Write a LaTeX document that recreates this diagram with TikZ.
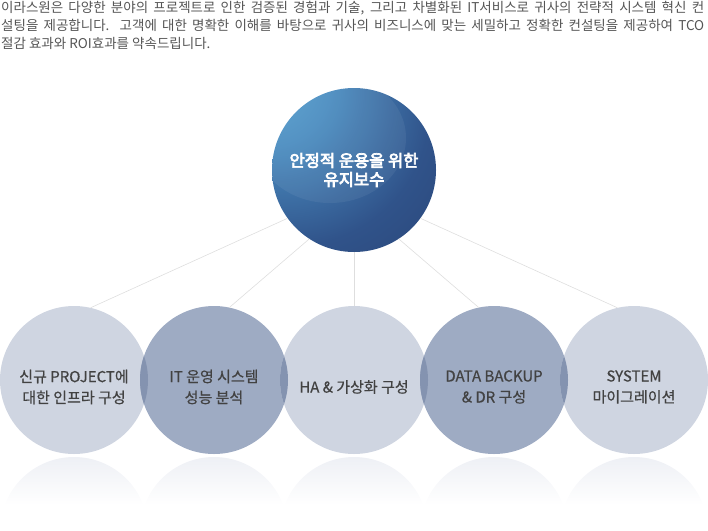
\documentclass[tikz,border=0pt]{standalone}
\usepackage{fontspec}
\setmainfont{Noto Sans CJK KR}
\newfontfamily\krmedium[FakeBold=0.6]{Noto Sans CJK KR}
\newcommand\heavytext[1]{\special{pdf:literal direct 2 Tr 0.7 w}#1\special{pdf:literal direct 0 Tr}}
\usetikzlibrary{calc}
\definecolor{introgray}{HTML}{555555}
\definecolor{lightring}{HTML}{CFD5E1}
\definecolor{darkring}{HTML}{9EABC3}
\definecolor{lensfill}{HTML}{8493B0}
\definecolor{ringtext}{HTML}{424242}
\definecolor{linkgray}{HTML}{DEDEDE}
\definecolor{reflect}{HTML}{EEF0F5}
\definecolor{navytop}{HTML}{5BAAD6}
\definecolor{navyup}{HTML}{4A8CC0}
\definecolor{navymid}{HTML}{30538A}
\definecolor{navylow}{HTML}{283F6F}
\pgfdeclareradialshading{mainglow}{\pgfpoint{-30bp}{30bp}}{color(0bp)=(navytop); color(18bp)=(navyup); color(40bp)=(navymid); color(65bp)=(navylow); color(100bp)=(navylow)}
\tikzset{
  intro/.style={anchor=base west, inner sep=0pt, text=introgray, font=\fontsize{13.5}{17}\selectfont},
  mainball/.style={circle, minimum size=164pt, inner sep=0pt, text=white, align=center, font=\fontsize{16.5}{19}\selectfont},
  ring/.style={circle, minimum size=148pt, inner sep=0pt},
  ringlabel/.style={align=center, inner sep=0pt, text=ringtext, font=\krmedium\fontsize{15}{21}\selectfont},
  link/.style={draw=linkgray, line width=0.6pt}
}

\begin{document}
\begin{tikzpicture}[x=1pt, y=-1pt]
   \useasboundingbox (0,0) rectangle (708,530);

   \node[intro] (p1) at (1,12.5) {\makebox[703pt][s]{이라스원은 다양한 분야의 프로젝트로 인한 검증된 경험과 기술, 그리고 차별화된 IT서비스로 귀사의 전략적 시스템 혁신 컨}};
   \node[intro] (p2) at (1,30) {\makebox[703pt][s]{설팅을 제공합니다.\ \ 고객에 대한 명확한 이해를 바탕으로 귀사의 비즈니스에 맞는 세밀하고 정확한 컨설팅을 제공하여 TCO}};
   \node[intro] (p3) at (1,48) {절감 효과와 ROI효과를 약속드립니다.};

   \foreach \x/\ringc/\name in {74/lightring/c1, 214/darkring/c2, 354/lightring/c3, 494/darkring/c4, 634/lightring/c5} {
     \begin{scope}
       \clip (\x,531) circle (74pt);
       \shade [top color=reflect, bottom color=white] (\x-74,457) rectangle (\x+74,505);
     \end{scope}
     \node[ring, fill=\ringc] (\name) at (\x,380) {};
   }
   \foreach \a/\b in {c1/c2, c2/c3, c3/c4, c4/c5} {
     \begin{scope}
       \clip (\a.center) circle (74pt);
       \fill [lensfill] (\b.center) circle (74pt);
     \end{scope}
   }
   \foreach \name/\txt in {c1/{신규 PROJECT에\\대한 인프라 구성}, c2/{IT 운영 시스템\\성능 분석},
       c3/{HA \& 가상화 구성}, c4/{DATA BACKUP\\\& DR 구성}, c5/{SYSTEM\\마이그레이션}}
     \node[ringlabel] (\name-txt) at ($(\name.center)+(0,7)$) {\txt};

   \begin{scope}
     \clip (354,170) circle (82pt);
     \shade [shading=mainglow] (268,84) rectangle (440,256);
     \fill [white, opacity=.06] (330,138) ellipse (76pt and 65pt);
   \end{scope}
   \node[mainball] (top) at (354,170) {\heavytext{안정적 운용을 위한}\\\heavytext{유지보수}};

   \draw[link] (top.216) -- (c1.77);
   \draw[link] (top.237) -- (c2.78);
   \draw[link] (top.270) -- (c3.90);
   \draw[link] (top.303) -- (c4.102);
   \draw[link] (top.324) -- (c5.103);

\end{tikzpicture}
\end{document}
